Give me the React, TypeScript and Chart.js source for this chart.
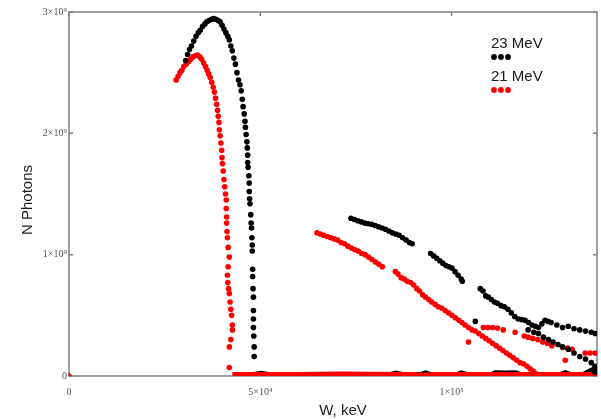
import React, { useEffect, useRef } from "react";
import { Chart, registerables } from "chart.js";

Chart.register(...registerables);

type P = [number, number];

// Axis set-up (x in keV, y in units of 10^9 photons)
const xTickValues = [0, 50000, 100000];
const xTickLabels = ["0", "5×10⁴", "1×10⁵"];
const yTickValues = [0, 1, 2, 3];
const yTickLabels = ["0", "1×10⁹", "2×10⁹", "3×10⁹"];
const xMax = 138000;
const yMax = 3;
const xTitle = "W, keV";
const yTitle = "N Photons";

const seriesNames = ["23 MeV", "21 MeV"];
const seriesColors = ["#000000", "#ff0000"];

// 23 MeV — main peak
const mev23Peak: P[] = [
  [30500, 2.6], [31000, 2.65], [31500, 2.69], [32000, 2.72], [32600, 2.76], [33200, 2.8],
  [33800, 2.83], [34300, 2.85], [34900, 2.88], [35500, 2.9], [36000, 2.92], [36600, 2.93],
  [37200, 2.94], [37800, 2.945], [38400, 2.94], [39000, 2.93], [39500, 2.92], [40000, 2.89],
  [40500, 2.86], [41000, 2.83], [41500, 2.8], [41900, 2.77], [42300, 2.72], [42700, 2.68],
  [43100, 2.62], [43500, 2.57], [43900, 2.5], [44300, 2.44], [44700, 2.4], [45000, 2.35],
  [45300, 2.28], [45500, 2.22], [45800, 2.16], [46000, 2.1], [46100, 2.05], [46300, 1.99],
  [46500, 1.93], [46600, 1.88], [46700, 1.82], [46700, 1.76], [46800, 1.72], [47000, 1.65],
  [47100, 1.59], [47100, 1.52], [47200, 1.46], [47300, 1.42], [47500, 1.33], [47600, 1.26],
  [47700, 1.22], [47800, 1.14], [47900, 1.08], [47900, 1.03], [48000, 0.88], [48000, 0.82],
  [48100, 0.72], [48200, 0.65], [48200, 0.54], [48200, 0.47], [48200, 0.4], [48300, 0.33],
  [48400, 0.24], [48400, 0.16],
];

// 23 MeV — high-energy tail, upper branch
const mev23Tail: P[] = [
  [73700, 1.3], [74600, 1.29], [75500, 1.28], [76400, 1.27], [77300, 1.26], [78200, 1.255],
  [79100, 1.25], [80000, 1.24], [80900, 1.23], [81800, 1.22], [82700, 1.21], [83600, 1.195],
  [84500, 1.18], [85400, 1.17], [86300, 1.16], [87200, 1.14], [88100, 1.12], [89000, 1.1],
  [89700, 1.09], [94500, 1.01], [95300, 0.99], [96100, 0.97], [96900, 0.95], [97700, 0.93],
  [98500, 0.91], [99300, 0.9], [100100, 0.89], [100900, 0.86], [101700, 0.83], [102500, 0.8],
  [102800, 0.78], [107500, 0.72], [108200, 0.7], [108900, 0.66], [109600, 0.65], [110400, 0.63],
  [111200, 0.61], [112000, 0.6], [112900, 0.58], [113800, 0.57], [114700, 0.55], [115600, 0.52],
  [116500, 0.49], [117400, 0.47], [118300, 0.465], [119200, 0.46], [120100, 0.44], [121000, 0.42],
  [121900, 0.41], [122700, 0.4], [123600, 0.43], [124400, 0.46], [125200, 0.45], [126000, 0.44],
  [127500, 0.42], [129000, 0.4], [130500, 0.41], [132000, 0.39], [133500, 0.38], [135000, 0.37],
  [136500, 0.36], [137500, 0.35],
];

// 23 MeV — high-energy tail, lower branch
const mev23TailLow: P[] = [
  [106200, 0.45], [120000, 0.38], [121500, 0.36], [122700, 0.35], [124000, 0.32], [125300, 0.3],
  [126500, 0.28], [127800, 0.26], [129000, 0.24], [130500, 0.22], [132000, 0.19], [133500, 0.16],
  [135000, 0.14], [136500, 0.11], [137500, 0.08], [137500, 0.03], [136800, 0.05],
];

// 23 MeV — near-zero band
const mev23Base: P[] = [
  [48400, 0], [50300, 0.01], [52000, 0], [84000, 0], [85400, 0.012], [87000, 0], [92000, 0],
  [93200, 0.012], [94500, 0], [101500, 0], [102600, 0.012], [104000, 0], [110500, 0],
  [111500, 0.015], [114000, 0.012], [116700, 0.015], [118000, 0], [128500, 0], [129700, 0.015],
  [131000, 0], [134500, 0], [135700, 0.02], [137500, 0.05], [138000, 0.08],
];

// 21 MeV — main peak
const mev21Peak: P[] = [
  [0, 0],
  [28000, 2.44], [28500, 2.47], [29000, 2.5], [29500, 2.52], [30000, 2.55], [30600, 2.57],
  [31200, 2.59], [31800, 2.61], [32400, 2.63], [33000, 2.64], [33600, 2.645], [34200, 2.63],
  [34700, 2.61], [35200, 2.58], [35700, 2.55], [36100, 2.52], [36500, 2.49], [36900, 2.46],
  [37300, 2.42], [37700, 2.38], [38000, 2.34], [38300, 2.29], [38600, 2.24], [38800, 2.19],
  [39000, 2.14], [39200, 2.09], [39300, 2.03], [39500, 1.98], [39700, 1.92], [39900, 1.86],
  [40000, 1.8], [40100, 1.75], [40300, 1.69], [40500, 1.62], [40700, 1.56], [40900, 1.5],
  [41100, 1.45], [41100, 1.38], [41200, 1.31], [41200, 1.26], [41300, 1.19], [41400, 1.14],
  [41600, 1.06], [41900, 0.98], [41600, 0.9], [41400, 0.83], [41500, 0.77], [41700, 0.72],
  [41900, 0.68], [42100, 0.61], [42300, 0.55], [42500, 0.5], [42700, 0.42], [42700, 0.38],
  [42300, 0.3], [41900, 0.24], [41900, 0.07],
];

// 21 MeV — high-energy tail, main branch
const mev21Tail: P[] = [
  [64800, 1.18], [65700, 1.17], [66600, 1.16], [67500, 1.15], [68400, 1.14], [69300, 1.13],
  [70200, 1.12], [71100, 1.1], [72000, 1.09], [72900, 1.07], [73800, 1.055], [74700, 1.04],
  [75600, 1.03], [76500, 1.01], [77400, 1.0], [78300, 0.98], [79200, 0.96], [80100, 0.94],
  [81000, 0.92], [81900, 0.9], [85300, 0.86], [86000, 0.84], [86800, 0.81], [87600, 0.8],
  [88400, 0.78], [89300, 0.77], [90100, 0.75], [90900, 0.72], [91600, 0.7], [92400, 0.67],
  [93200, 0.65], [94000, 0.63], [94800, 0.61], [95700, 0.59], [96500, 0.57], [97400, 0.56],
  [98300, 0.54], [99200, 0.52], [100100, 0.5], [101000, 0.48], [101900, 0.46], [102700, 0.44],
  [103500, 0.42], [104400, 0.4], [105300, 0.38], [106200, 0.37], [107100, 0.35], [108000, 0.33],
  [108900, 0.31], [109800, 0.29], [110700, 0.27], [111600, 0.25], [112500, 0.23], [113400, 0.21],
  [114300, 0.19], [115200, 0.17], [116100, 0.15], [117000, 0.13], [117900, 0.11], [118800, 0.1],
  [119700, 0.08], [120500, 0.06], [121300, 0.04], [122000, 0.02],
];

// 21 MeV — high-energy tail, secondary branch and stray points
const mev21TailUp: P[] = [
  [108300, 0.4], [109500, 0.4], [110700, 0.4], [112000, 0.395], [113500, 0.38], [116600, 0.36],
  [119000, 0.33], [120000, 0.32], [121200, 0.31], [122500, 0.3], [123800, 0.28], [125000, 0.27],
  [126200, 0.25], [129000, 0.235], [130300, 0.23], [131500, 0.22], [134900, 0.19], [136200, 0.19],
  [137500, 0.19], [104400, 0.28], [129700, 0.13],
];

// 21 MeV — near-zero band
const mev21Base: P[] = [
  [42700, 0], [60000, 0], [70000, 0.004], [90000, 0], [93000, -0.006], [95000, 0], [138000, 0],
];

const toXY = (arr: P[]) => arr.map(([x, y]) => ({ x, y }));

const framePlugin = {
  id: "frameAndLegend",
  beforeDatasetsDraw(chart: any) {
    const { ctx, chartArea: a, scales } = chart;
    ctx.save();
    ctx.strokeStyle = "#808080";
    ctx.lineWidth = 1.5;
    ctx.strokeRect(a.left, a.top, a.right - a.left, a.bottom - a.top);
    ctx.beginPath();
    for (const v of xTickValues) {
      const x = scales.x.getPixelForValue(v);
      ctx.moveTo(x, a.bottom);
      ctx.lineTo(x, a.bottom - 4);
      ctx.moveTo(x, a.top);
      ctx.lineTo(x, a.top + 4);
    }
    for (const v of yTickValues) {
      const y = scales.y.getPixelForValue(v);
      ctx.moveTo(a.left, y);
      ctx.lineTo(a.left + 4, y);
      ctx.moveTo(a.right, y);
      ctx.lineTo(a.right - 4, y);
    }
    ctx.stroke();
    ctx.restore();
  },
  afterDraw(chart: any) {
    const { ctx, chartArea: a } = chart;
    ctx.save();
    ctx.font = '15px "Liberation Sans", Arial, sans-serif';
    ctx.fillStyle = "#1a1a1a";
    // axis titles
    ctx.textAlign = "center";
    ctx.textBaseline = "alphabetic";
    ctx.fillText(xTitle, (a.left + a.right) / 2 + 10, a.bottom + 39);
    ctx.save();
    ctx.translate(32, (a.top + a.bottom) / 2 + 6);
    ctx.rotate(-Math.PI / 2);
    ctx.fillText(yTitle, 0, 0);
    ctx.restore();
    // legend
    ctx.textAlign = "left";
    const x0 = a.right - 106;
    seriesNames.forEach((name, i) => {
      const base = a.top + 36 + i * 33;
      ctx.fillStyle = "#1a1a1a";
      ctx.fillText(name, x0, base);
      ctx.fillStyle = seriesColors[i];
      for (let k = 0; k < 3; k++) {
        ctx.beginPath();
        ctx.arc(x0 + 3 + k * 7, base + 9, 2.9, 0, Math.PI * 2);
        ctx.fill();
      }
    });
    ctx.restore();
  },
};

export default function App() {
  const ref = useRef<HTMLCanvasElement | null>(null);

  useEffect(() => {
    if (!ref.current) return;
    const pt = (arr: P[], color: string) => ({
      type: "scatter" as const,
      data: toXY(arr),
      backgroundColor: color,
      borderColor: color,
      borderWidth: 0,
      pointRadius: 2.8,
      showLine: false,
    });
    const band = (arr: P[], color: string) => ({
      type: "line" as const,
      data: toXY(arr),
      borderColor: color,
      backgroundColor: color,
      borderWidth: 8,
      pointRadius: 0,
      fill: false,
      tension: 0,
    });
    const tickFont = { family: '"Liberation Serif", "DejaVu Serif", serif', size: 10 };
    const chart = new Chart(ref.current, {
      type: "scatter",
      data: {
        datasets: [
          pt(mev23Peak, seriesColors[0]),
          pt(mev23Tail, seriesColors[0]),
          pt(mev23TailLow, seriesColors[0]),
          pt(mev21Peak, seriesColors[1]),
          pt(mev21Tail, seriesColors[1]),
          pt(mev21TailUp, seriesColors[1]),
          band(mev21Base, seriesColors[1]),
          band(mev23Base, seriesColors[0]),
        ] as any,
      },
      options: {
        responsive: false,
        animation: false,
        events: [],
        layout: { padding: { left: 0, right: 3, top: 12, bottom: 0 } },
        plugins: {
          legend: { display: false },
          tooltip: { enabled: false },
        },
        scales: {
          x: {
            type: "linear",
            min: 0,
            max: xMax,
            grid: { display: false, drawTicks: false },
            border: { display: false },
            afterBuildTicks: (s: any) => {
              s.ticks = xTickValues.map((v) => ({ value: v }));
            },
            afterFit: (s: any) => {
              s.height = 43;
            },
            ticks: {
              autoSkip: false,
              maxRotation: 0,
              padding: 10,
              color: "#555555",
              font: tickFont,
              callback: (v: any) => {
                const i = xTickValues.indexOf(Number(v));
                return i >= 0 ? xTickLabels[i] : "";
              },
            },
          },
          y: {
            type: "linear",
            min: 0,
            max: yMax,
            grid: { display: false, drawTicks: false },
            border: { display: false },
            afterBuildTicks: (s: any) => {
              s.ticks = yTickValues.map((v) => ({ value: v }));
            },
            afterFit: (s: any) => {
              s.width = 69;
            },
            ticks: {
              autoSkip: false,
              padding: 2,
              color: "#555555",
              font: tickFont,
              callback: (v: any) => {
                const i = yTickValues.indexOf(Number(v));
                return i >= 0 ? yTickLabels[i] : "";
              },
            },
          },
        },
      },
      plugins: [framePlugin],
    });
    return () => chart.destroy();
  }, []);

  return (
    <div style={{ position: "fixed", left: 0, top: 0, width: 601, height: 419, background: "#fff" }}>
      <canvas ref={ref} width={601} height={419} />
    </div>
  );
}
